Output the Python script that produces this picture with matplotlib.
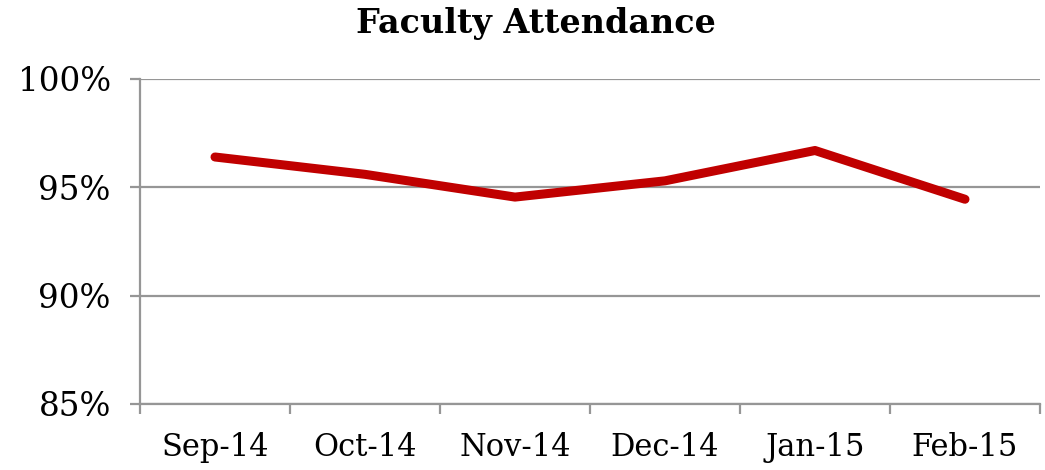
import numpy as np
import matplotlib.pyplot as plt

months = ["Sep-14", "Oct-14", "Nov-14", "Dec-14", "Jan-15", "Feb-15"]
attendance = [96.4, 95.6, 94.55, 95.3, 96.7, 94.45]
y_ticks = [85, 90, 95, 100]

plt.rcParams['font.family'] = ['DejaVu Serif']

grid_col = '#969696'
fig = plt.figure(figsize=(10.45, 4.7), dpi=100)
ax = fig.add_axes([140 / 1045, 1 - 404 / 470, 900 / 1045, 325 / 470])

x = np.arange(len(months))
ax.plot(x, attendance, color='#C00000', lw=6.5, solid_capstyle='round',
        solid_joinstyle='round', zorder=3)

ax.set_xlim(-0.5, len(months) - 0.5)
ax.set_ylim(85, 100)
ax.set_yticks(y_ticks)
ax.set_yticklabels([f"{v}%" for v in y_ticks], fontsize=23.5)
ax.yaxis.grid(True, color=grid_col, lw=1.6)

# category labels between boundary ticks
ax.set_xticks(np.arange(-0.5, len(months)), minor=False)
ax.set_xticklabels([])
ax.set_xticks(x, minor=True)
ax.set_xticklabels(months, minor=True, fontsize=22)
ax.tick_params(axis='x', which='minor', length=0, pad=20)
ax.tick_params(axis='x', which='major', length=7, width=1.6, color=grid_col)
ax.tick_params(axis='y', length=7, width=1.6, color=grid_col, pad=14)

for s in ['top', 'right']:
    ax.spines[s].set_visible(False)
for s in ['left', 'bottom']:
    ax.spines[s].set_color(grid_col)
    ax.spines[s].set_linewidth(1.6)

fig.suptitle("Faculty Attendance", fontsize=24, fontweight='bold', x=0.513, y=0.985)

fig.savefig("out.png", dpi=100)
